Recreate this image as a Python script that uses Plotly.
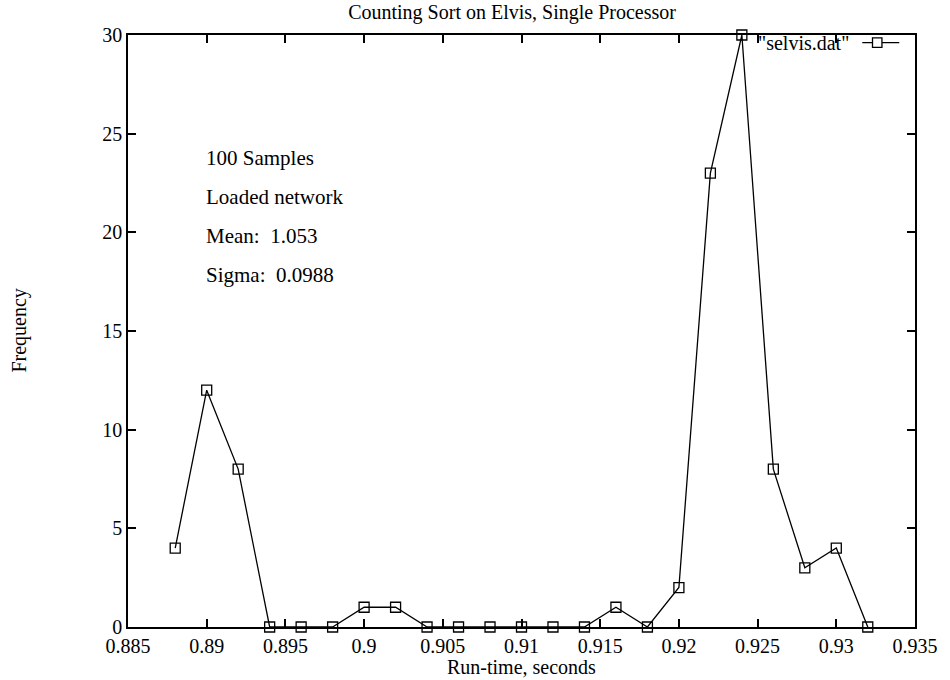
import plotly.graph_objects as go

run_time = [0.888, 0.890, 0.892, 0.894, 0.896, 0.898, 0.900, 0.902, 0.904, 0.906, 0.908,
            0.910, 0.912, 0.914, 0.916, 0.918, 0.920, 0.922, 0.924, 0.926, 0.928, 0.930, 0.932]
frequency = [4, 12, 8, 0, 0, 0, 1, 1, 0, 0, 0, 0, 0, 0, 1, 0, 2, 23, 30, 8, 3, 4, 0]
x_ticks = [0.885, 0.89, 0.895, 0.9, 0.905, 0.91, 0.915, 0.92, 0.925, 0.93, 0.935]
x_tick_labels = ["0.885", "0.89", "0.895", "0.9", "0.905", "0.91", "0.915", "0.92", "0.925", "0.93", "0.935"]
y_ticks = [0, 5, 10, 15, 20, 25, 30]
notes = ["100 Samples", "Loaded network", "Mean:  1.053", "Sigma:  0.0988"]

FONT = "Liberation Serif, Times New Roman, serif"

fig = go.Figure()
fig.add_trace(go.Scatter(
    x=run_time, y=frequency, mode="lines+markers",
    line=dict(color="black", width=1.3),
    marker=dict(symbol="square-open", size=10, color="black", line=dict(width=1.3)),
    cliponaxis=False, showlegend=False, name='"selvis.dat"'))

axis_common = dict(showgrid=False, zeroline=False, showline=True, linecolor="black",
                   linewidth=1.6, mirror="ticks", ticks="inside", ticklen=8,
                   tickcolor="black", tickwidth=1.6,
                   tickfont=dict(family=FONT, size=20, color="black"))

fig.update_xaxes(range=[0.885, 0.935], tickvals=x_ticks, ticktext=x_tick_labels, **axis_common)
fig.update_yaxes(range=[0, 30], tickvals=y_ticks, **axis_common)

annotations = []
for i, t in enumerate(notes):
    annotations.append(dict(x=0.097, y=0.792 - i * 0.066, xref="paper", yref="paper",
                            text=t, showarrow=False, xanchor="left", yanchor="middle",
                            font=dict(family=FONT, size=21, color="black")))
annotations.append(dict(x=0.919, y=0.987, xref="paper", yref="paper", text='"selvis.dat"',
                        showarrow=False, xanchor="right", yanchor="middle",
                        font=dict(family=FONT, size=20, color="black")))
annotations.append(dict(x=0.5, y=-0.068, xref="paper", yref="paper", text="Run-time, seconds",
                        showarrow=False, xanchor="center", yanchor="middle",
                        font=dict(family=FONT, size=20, color="black")))
annotations.append(dict(x=-0.139, y=0.5, xref="paper", yref="paper", text="Frequency",
                        showarrow=False, xanchor="center", yanchor="middle", textangle=-90,
                        font=dict(family=FONT, size=20, color="black")))

shapes = [
    dict(type="line", xref="paper", yref="paper", x0=0.933, x1=0.980, y0=0.987, y1=0.987,
         line=dict(color="black", width=1.3)),
    dict(type="rect", xref="paper", yref="paper", x0=0.946, x1=0.958, y0=0.979, y1=0.995,
         line=dict(color="black", width=1.3), fillcolor="white"),
]

fig.update_layout(
    width=950, height=680, plot_bgcolor="white", paper_bgcolor="white",
    margin=dict(l=128, r=29, t=35, b=53),
    title=dict(text="Counting Sort on Elvis, Single Processor", x=0.539, xanchor="center",
               y=0.982, yanchor="middle", font=dict(family=FONT, size=20, color="black")),
    annotations=annotations, shapes=shapes, showlegend=False,
)

fig.write_html("out.html")
